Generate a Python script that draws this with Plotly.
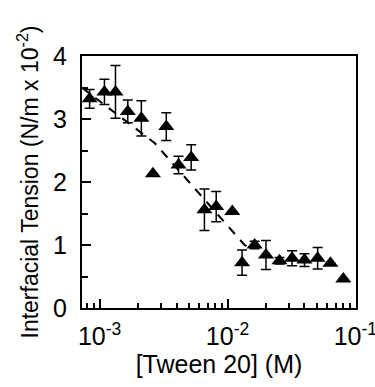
import plotly.graph_objects as go

tween_m = [8.35e-4, 1.09e-3, 1.33e-3, 1.66e-3, 2.12e-3, 2.61e-3, 3.32e-3, 4.14e-3, 5.2e-3,
           6.6e-3, 8.16e-3, 1.09e-2, 1.30e-2, 1.63e-2, 2.0e-2, 2.55e-2, 3.2e-2, 4.0e-2,
           5.07e-2, 6.38e-2, 8.05e-2]
tension = [3.32, 3.43, 3.43, 3.12, 3.01, 2.13, 2.88, 2.27, 2.39, 1.56, 1.61, 1.53, 0.72,
           1.00, 0.84, 0.75, 0.79, 0.76, 0.79, 0.71, 0.46]
tension_err = [0.15, 0.2, 0.42, 0.18, 0.28, 0, 0.22, 0.14, 0.2, 0.33, 0.24, 0, 0.2, 0.06,
               0.23, 0.05, 0.12, 0.1, 0.17, 0, 0]

fit_x = [7.24e-4, 2.69e-3, 1.36e-2, 1.5e-2]
fit_y = [3.50, 2.62, 1.0, 0.95]

x_tickvals = [1e-3, 1e-2, 1e-1]
x_ticktext = ["10<sup>-3</sup>", "10<sup>-2</sup>", "10<sup>-1</sup>"]

FONT = "Liberation Sans, Arial, sans-serif"

fig = go.Figure()
fig.add_trace(go.Scatter(
    x=fit_x, y=fit_y, mode="lines",
    line=dict(color="black", width=2, dash="9px,8px"),
    showlegend=False, hoverinfo="skip"))
fig.add_trace(go.Scatter(
    x=tween_m, y=tension, mode="markers",
    marker=dict(symbol="triangle-up", size=14, color="black"),
    error_y=dict(type="data", array=tension_err, visible=True, color="black",
                 thickness=1.5, width=5),
    showlegend=False))

fig.update_layout(
    width=375, height=387,
    margin=dict(l=82, r=19, t=56, b=79, autoexpand=False),
    paper_bgcolor="white", plot_bgcolor="white",
    font=dict(family=FONT, size=24, color="black"),
    xaxis=dict(
        type="log", range=[-3.138, -0.995], automargin=False,
        tickvals=x_tickvals, ticktext=x_ticktext,
        ticks="inside", ticklen=9, tickwidth=1.5, tickcolor="black",
        minor=dict(ticks="inside", ticklen=5, tickwidth=1.5, tickcolor="black",
                   dtick="D1", showgrid=False),
        showline=True, linecolor="black", linewidth=2, mirror=True,
        showgrid=False, zeroline=False,
        tickfont=dict(size=25), ticklabelstandoff=5, ticklabeloverflow="allow",
        title=dict(text="[Tween 20] (M)", font=dict(size=25), standoff=6),
    ),
    yaxis=dict(
        range=[0, 4], tickvals=[0, 1, 2, 3, 4], automargin=False,
        ticks="inside", ticklen=9, tickwidth=1.5, tickcolor="black",
        minor=dict(ticks="inside", ticklen=6, tickwidth=1.5, tickcolor="black",
                   dtick=0.5, showgrid=False),
        showline=True, linecolor="black", linewidth=2, mirror=True,
        showgrid=False, zeroline=False,
        tickfont=dict(size=25), ticklabelstandoff=8,
        title=dict(text="Interfacial Tension (N/m x 10<sup>-2</sup>)", font=dict(size=23),
                   standoff=8),
    ),
)

fig.write_html("out.html")
